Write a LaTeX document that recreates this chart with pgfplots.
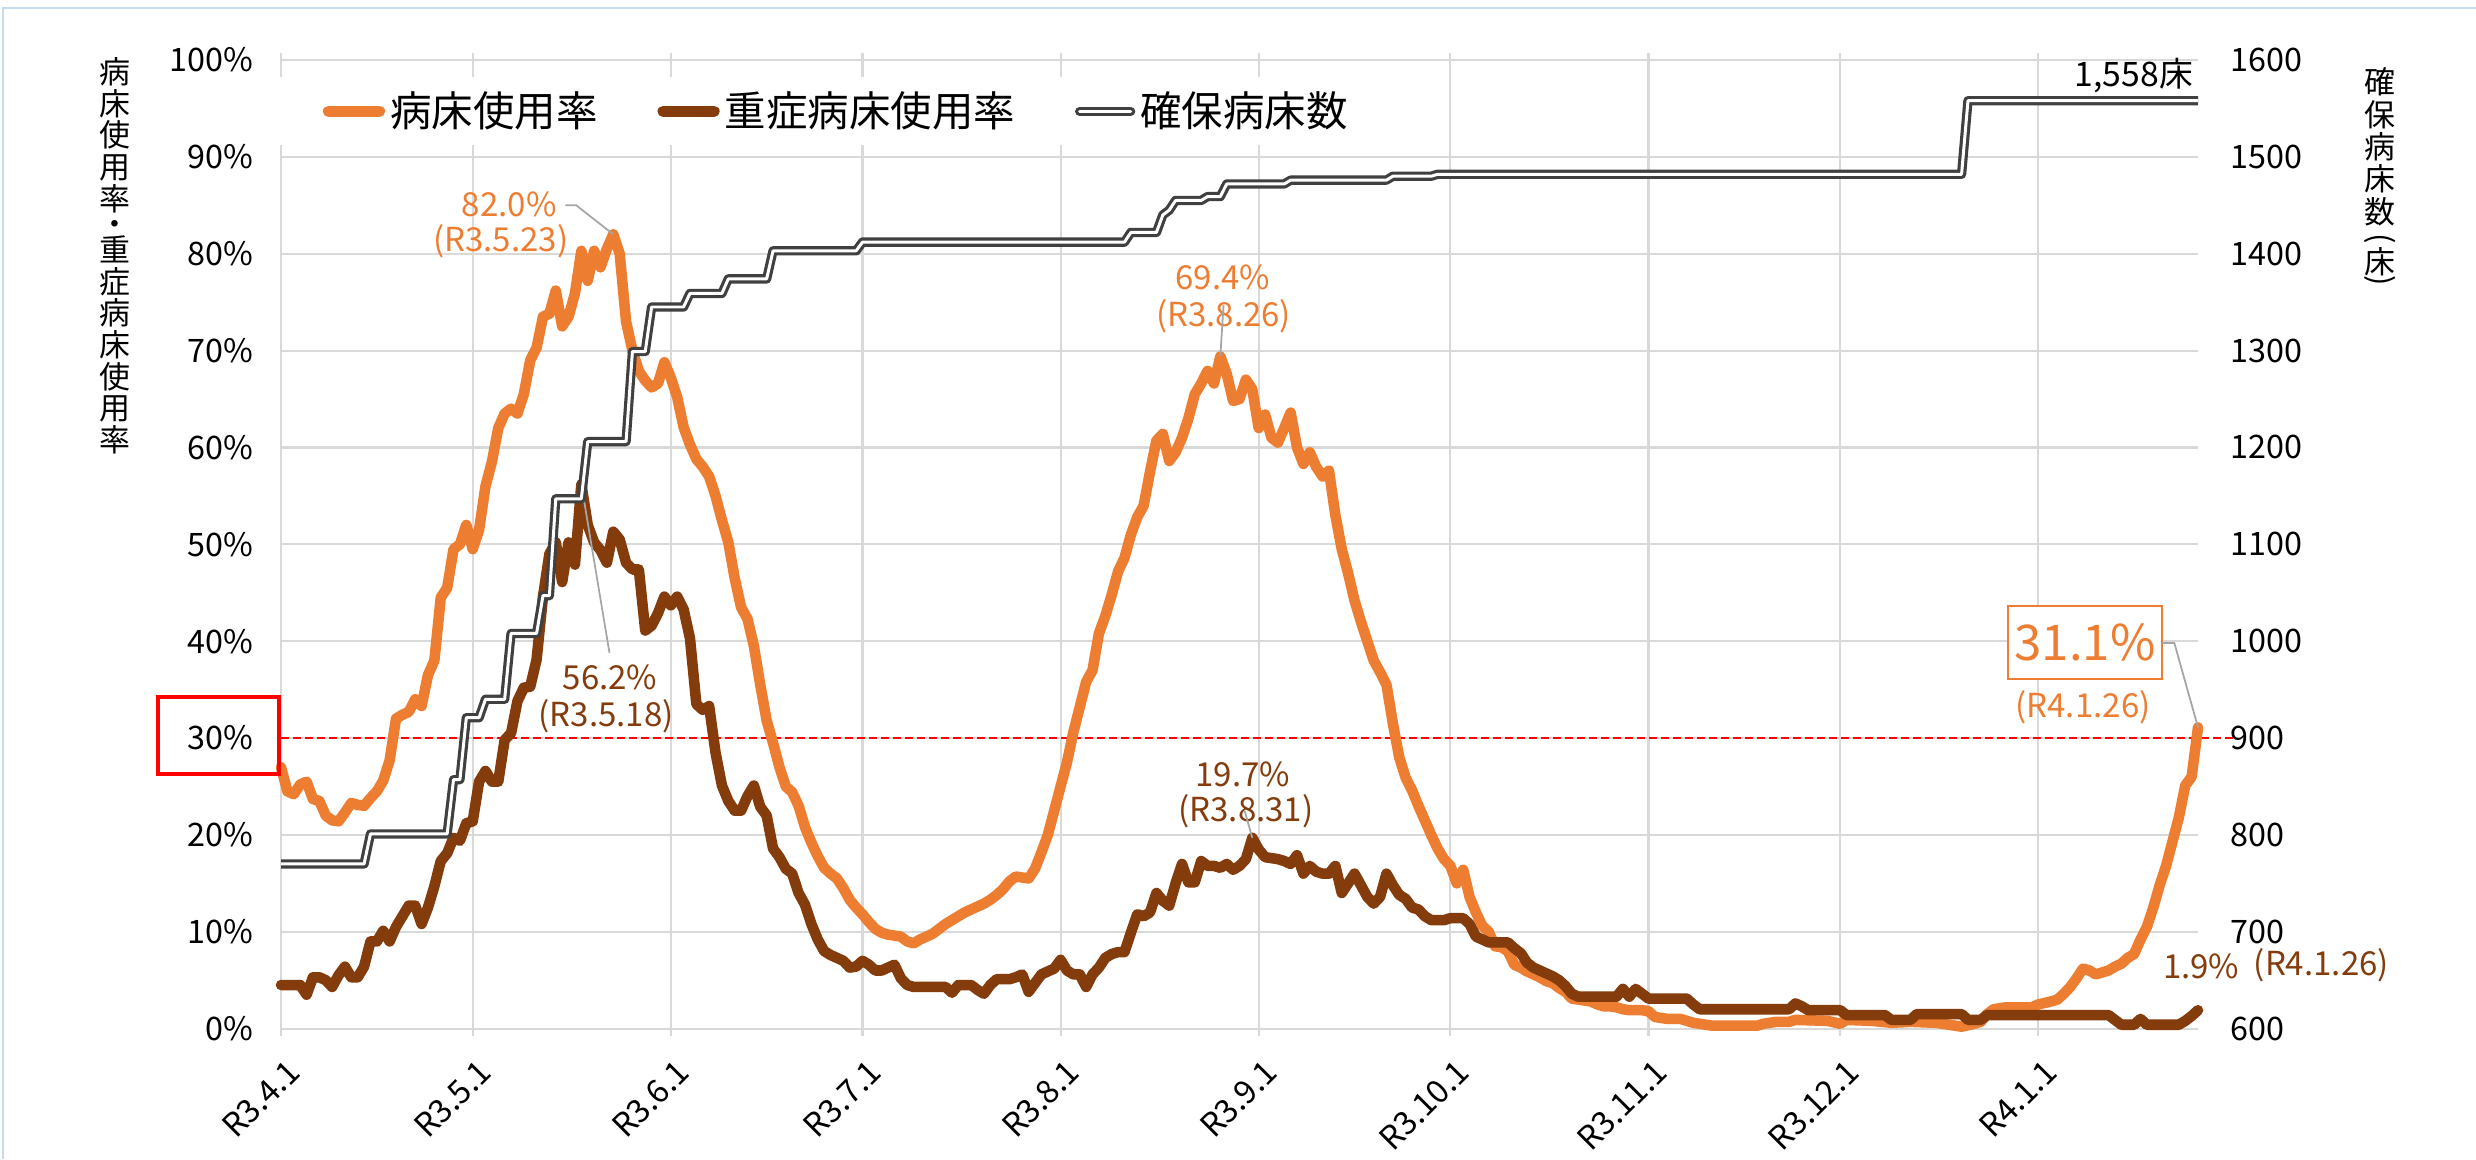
\documentclass[border=0pt]{standalone}
\usepackage{fontspec}
\setmainfont{Noto Sans CJK JP}
\usepackage{graphicx}
\usepackage{pgfplots}
\usepackage{pgfplotstable}
\pgfplotsset{compat=1.18}
\definecolor{ora}{HTML}{ED7D31}
\definecolor{brn}{HTML}{843C0C}
\definecolor{gridc}{HTML}{D9D9D9}
\definecolor{bedc}{HTML}{404040}
\definecolor{leadc}{HTML}{A6A6A6}
\definecolor{bord}{HTML}{C5DCF0}

\pgfplotstableread{
d v
0 27.0
1 24.5
2 24.2
3 25.2
4 25.5
5 23.7
6 23.5
7 22.0
8 21.5
9 21.4
10 22.3
11 23.3
12 23.1
13 23.0
14 23.8
15 24.5
16 25.6
17 27.7
18 32.0
19 32.4
20 32.7
21 34.0
22 33.3
23 36.5
24 38.0
25 44.5
26 45.5
27 49.5
28 50.0
29 52.0
30 49.5
31 51.5
32 56.0
33 58.5
34 62.0
35 63.5
36 64.0
37 63.5
38 65.5
39 69.0
40 70.3
41 73.5
42 73.8
43 76.2
44 72.5
45 73.5
46 75.9
47 80.3
48 77.2
49 80.3
50 78.6
51 80.5
52 82.0
53 80.0
54 73.0
55 70.0
56 67.9
57 66.9
58 66.2
59 66.6
60 68.8
61 67.2
62 65.2
63 62.1
64 60.3
65 58.8
66 58.0
67 57.0
68 55.0
69 52.5
70 50.2
71 46.5
72 43.5
73 42.3
74 39.5
75 35.5
76 31.8
77 29.5
78 27.0
79 25.0
80 24.4
81 23.0
82 20.8
83 19.2
84 17.8
85 16.6
86 16.0
87 15.5
88 14.5
89 13.3
90 12.5
91 11.8
92 11.0
93 10.3
94 9.9
95 9.7
96 9.6
97 9.5
98 9.0
99 8.8
100 9.2
101 9.5
102 9.8
103 10.3
104 10.8
105 11.2
106 11.6
107 12.0
108 12.3
109 12.6
110 12.9
111 13.3
112 13.8
113 14.4
114 15.2
115 15.7
116 15.6
117 15.5
118 16.5
119 18.2
120 20.0
121 22.5
122 25.0
123 27.5
124 30.6
125 33.2
126 35.8
127 37.0
128 40.8
129 42.6
130 44.8
131 47.2
132 48.6
133 51.0
134 52.8
135 54.0
136 57.5
137 60.7
138 61.4
139 58.6
140 59.5
141 61.0
142 63.0
143 65.5
144 66.6
145 67.9
146 66.6
147 69.4
148 67.6
149 64.8
150 65.0
151 67.0
152 66.0
153 62.0
154 63.4
155 61.0
156 60.5
157 62.0
158 63.6
159 60.0
160 58.3
161 59.5
162 58.0
163 57.0
164 57.6
165 53.0
166 49.5
167 47.0
168 44.2
169 42.0
170 40.0
171 38.0
172 36.8
173 35.5
174 31.5
175 28.0
176 25.9
177 24.6
178 23.0
179 21.5
180 20.0
181 18.6
182 17.5
183 16.8
184 15.0
185 16.4
186 13.6
187 12.0
188 10.6
189 10.0
190 8.5
191 8.4
192 8.0
193 6.6
194 6.3
195 5.9
196 5.6
197 5.3
198 4.9
199 4.7
200 4.2
201 3.8
202 3.1
203 3.0
204 2.9
205 2.8
206 2.5
207 2.3
208 2.3
209 2.2
210 2.0
211 1.9
213 1.9
214 1.8
215 1.2
216 1.1
217 1.0
219 1.0
220 0.8
221 0.6
222 0.5
223 0.4
224 0.3
231 0.3
232 0.5
234 0.7
236 0.7
237 0.9
242 0.8
244 0.5
245 0.9
249 0.8
252 0.6
255 0.7
259 0.6
262 0.3
263 0.2
265 0.5
266 0.7
267 1.5
268 2.0
270 2.2
274 2.2
275 2.5
277 2.8
278 3.0
279 3.6
280 4.3
281 5.2
282 6.2
283 6.0
284 5.6
285 5.8
286 6.0
287 6.4
288 6.7
289 7.3
290 7.7
291 9.2
292 10.5
293 12.5
294 14.8
295 16.8
296 19.3
297 21.8
298 25.1
299 26.0
300 31.1
}\orangetab

\pgfplotstableread{
d v
0 4.5
3 4.5
4 3.5
5 5.3
6 5.3
7 5.0
8 4.3
9 5.5
10 6.4
11 5.3
12 5.3
13 6.4
14 9.0
15 9.0
16 10.1
17 9.0
18 10.5
19 11.6
20 12.7
21 12.7
22 10.8
23 12.5
24 14.7
25 17.3
26 18.1
27 19.7
28 19.4
29 21.2
30 21.4
31 25.5
32 26.6
33 25.5
34 25.5
35 29.8
36 30.5
37 33.8
38 35.2
39 35.3
40 38.1
41 44.6
42 49.0
43 50.2
44 46.1
45 50.2
46 47.9
47 56.2
48 52.0
49 50.2
50 49.4
51 48.1
52 51.3
53 50.5
54 48.1
55 47.4
56 47.4
57 41.1
58 41.6
59 42.9
60 44.6
61 43.7
62 44.6
63 43.3
64 40.3
65 33.5
66 32.9
67 33.3
68 28.5
69 25.1
70 23.5
71 22.5
72 22.5
73 24.0
74 25.1
75 22.9
76 22.0
77 18.6
78 17.7
79 16.5
80 16.0
81 14.0
82 12.8
83 10.8
84 9.2
85 8.0
86 7.6
87 7.3
88 7.0
89 6.3
90 6.4
91 7.0
92 6.6
93 6.0
94 6.0
95 6.3
96 6.6
97 5.2
98 4.5
99 4.3
104 4.3
105 3.7
106 4.5
108 4.5
109 4.0
110 3.6
111 4.5
112 5.1
114 5.1
115 5.3
116 5.6
117 3.8
118 4.7
119 5.6
120 5.9
121 6.2
122 7.1
123 6.0
124 5.6
125 5.6
126 4.3
127 5.6
128 6.3
129 7.3
130 7.7
131 7.9
132 7.9
133 9.9
134 11.8
135 11.6
136 12.0
137 14.0
138 13.2
139 12.7
140 15.0
141 17.0
142 15.1
143 15.1
144 17.3
145 16.8
146 16.8
147 16.6
148 17.0
149 16.4
150 16.8
151 17.5
152 19.7
153 18.5
154 17.7
155 17.6
156 17.5
157 17.3
158 17.0
159 17.9
160 16.0
161 16.8
162 16.2
163 16.0
164 16.0
165 16.8
166 14.0
167 15.0
168 16.0
169 14.8
170 13.6
171 12.9
172 13.6
173 16.0
174 14.8
175 13.8
176 13.4
177 12.5
178 12.3
179 11.6
180 11.2
182 11.2
183 11.4
185 11.4
186 10.8
187 9.5
188 9.2
189 8.9
192 8.9
193 8.3
194 7.8
195 6.8
196 6.3
197 6.0
198 5.7
199 5.4
200 5.0
201 4.4
202 3.6
203 3.3
209 3.3
210 4.1
211 3.3
212 4.1
213 3.6
214 3.1
220 3.1
221 2.5
222 2.0
236 2.0
237 2.6
238 2.3
239 1.9
244 1.9
245 1.4
251 1.4
252 0.9
255 0.9
256 1.5
263 1.5
264 0.9
266 0.9
267 1.4
286 1.4
287 0.9
288 0.4
290 0.4
291 1.0
292 0.4
297 0.4
298 0.8
299 1.3
300 1.9
}\browntab

\pgfplotstableread{
d v
0 770
13 770
14 801
26 801
27 857
28 857
29 921
31 921
32 940
35 940
36 1008
40 1008
41 1047
42 1047
43 1147
47 1147
48 1206
54 1206
55 1299
57 1299
58 1345
63 1345
64 1359
69 1359
70 1374
76 1374
77 1403
90 1403
91 1412
132 1412
133 1422
137 1422
138 1440
139 1445
140 1455
144 1455
145 1459
147 1459
148 1472
157 1472
158 1476
173 1476
174 1480
180 1480
181 1482
263 1482
264 1558
300 1558
}\bedtab

\begin{document}
\begin{tikzpicture}
\useasboundingbox (0,0) rectangle (24.76,11.59);
\fill[white] (0,0) rectangle (24.76,11.59);
\draw[bord, line width=0.7pt] (0.03,0) -- (0.03,11.51) -- (24.76,11.51);

\begin{axis}[
  at={(2.81cm,1.304cm)}, anchor=south west,
  scale only axis, width=19.17cm, height=9.686cm,
  xmin=0, xmax=300, ymin=0, ymax=100,
  clip=false,
  axis line style={draw=none},
  grid=major, grid style={gridc, line width=0.6pt},
  xtick={0,30,61,91,122,153,183,214,244,275},
  xticklabels={R3.4.1,R3.5.1,R3.6.1,R3.7.1,R3.8.1,R3.9.1,R3.10.1,R3.11.1,R3.12.1,R4.1.1},
  ytick={0,10,...,100},
  yticklabel={\pgfmathprintnumber{\tick}\%},
  tick align=outside, major tick length=0.07cm,
  xtick style={draw=gridc, line width=0.6pt},
  ytick style={draw=none},
  /pgf/number format/assume math mode=true,
  tick label style={font=\fontsize{9.2}{11}\selectfont, inner sep=0pt},
  xticklabel style={xshift=0.13cm, yshift=-0.30cm, rotate=45, anchor=east},
  yticklabel style={anchor=east, xshift=-0.2cm},
]
\addplot[red, line width=0.7pt, dash pattern=on 0.8mm off 0.4mm] coordinates {(0,30) (305.4,30)};
\addplot[ora, line width=3pt, line join=round, line cap=round] table[x=d,y=v] {\orangetab};
\addplot[brn, line width=3pt, line join=round, line cap=round] table[x=d,y=v] {\browntab};

\tikzset{ann/.style={font=\fontsize{9.4}{11}\selectfont, inner sep=0pt}}
\node[ann, text=ora] at (axis cs:35.7,85.1) {82.0\%};
\node[ann, text=ora] at (axis cs:34.4,81.3) {(R3.5.23)};
\draw[leadc, line width=0.5pt] (axis cs:44.5,85.0) -- (axis cs:46.2,85.0) -- (axis cs:52,82.0);

\node[ann, text=brn] at (axis cs:51.5,36.3) {56.2\%};
\node[ann, text=brn] at (axis cs:50.9,32.2) {(R3.5.18)};
\draw[leadc, line width=0.5pt] (axis cs:51.4,38.8) -- (axis cs:47,56.2);

\node[ann, text=ora] at (axis cs:147.4,77.6) {69.4\%};
\node[ann, text=ora] at (axis cs:147.5,73.5) {(R3.8.26)};
\draw[leadc, line width=0.5pt] (axis cs:147.5,74.7) -- (axis cs:147,69.4);

\node[ann, text=brn] at (axis cs:150.5,26.2) {19.7\%};
\node[ann, text=brn] at (axis cs:151.0,22.4) {(R3.8.31)};
\draw[leadc, line width=0.5pt] (axis cs:150.8,22.5) -- (axis cs:152,19.7);

\node[draw=ora, line width=0.6pt, fill=white, text=ora, font=\fontsize{14}{16}\selectfont, minimum width=1.54cm, minimum height=0.73cm, inner sep=0pt] at (axis cs:282.3,39.9) {31.1\%};
\node[ann, text=ora] at (axis cs:282.0,33.2) {(R4.1.26)};
\draw[leadc, line width=0.5pt] (axis cs:294.4,39.8) -- (axis cs:296.3,39.8) -- (axis cs:300,31.1);

\node[ann, text=brn] at (axis cs:300.5,6.4) {1.9\%};
\node[ann, text=brn] at (axis cs:319.3,6.5) {(R4.1.26)};

\node[font=\fontsize{9.6}{11}\selectfont, inner sep=0pt, anchor=east] at (axis cs:299.3,98.4) {1,558床};
\end{axis}

\begin{axis}[
  at={(2.81cm,1.304cm)}, anchor=south west,
  scale only axis, width=19.17cm, height=9.686cm,
  xmin=0, xmax=300, ymin=600, ymax=1600,
  axis x line=none, axis y line*=right,
  axis line style={draw=none},
  ytick={600,700,...,1600},
  tick align=outside, major tick length=0.07cm,
  ytick style={draw=none},
  /pgf/number format/1000 sep={},
  /pgf/number format/assume math mode=true,
  yticklabel style={font=\fontsize{9.2}{11}\selectfont, anchor=west, inner sep=0pt, xshift=0.25cm},
  legend columns=3,
  legend cell align=left,
  legend image code/.code={\draw[#1] (0.05cm,0cm) -- (0.56cm,0cm);},
  legend style={at={(-0.002,0.947)}, anchor=west, draw=none, fill=white,
    font=\fontsize{11.8}{14}\selectfont, inner xsep=0.45cm, inner ysep=0.14cm,
    nodes={inner sep=0pt, text depth=0.15em},
    /tikz/every odd column/.append style={column sep=0.05cm},
    /tikz/every even column/.append style={column sep=0.6cm}},
]
\addlegendimage{ora, line width=3.2pt, line cap=round}
\addlegendentry{病床使用率}
\addlegendimage{brn, line width=3.2pt, line cap=round}
\addlegendentry{重症病床使用率}
\addplot[bedc, line width=0.9pt, double=white, double distance=0.85pt, line join=round, line cap=round] table[x=d,y=v] {\bedtab};
\addlegendentry{確保病床数}
\end{axis}

\draw[red, line width=1pt] (1.58,3.85) rectangle (2.79,4.62);

\node[anchor=north, align=center, inner sep=0pt, font=\fontsize{8.8}{9.0}\selectfont] at (1.15,11.02)
  {病\\床\\使\\用\\率\\[-0.06cm]・\\[-0.06cm]重\\症\\病\\床\\使\\用\\率};
\node[anchor=north, align=center, inner sep=0pt, font=\fontsize{8.8}{9.2}\selectfont] at (23.80,10.92)
  {確\\保\\病\\床\\数\\[-0.07cm]\rotatebox[origin=c]{-90}{(}\\[-0.07cm]床\\[-0.16cm]\rotatebox[origin=c]{-90}{)}};
\end{tikzpicture}
\end{document}
